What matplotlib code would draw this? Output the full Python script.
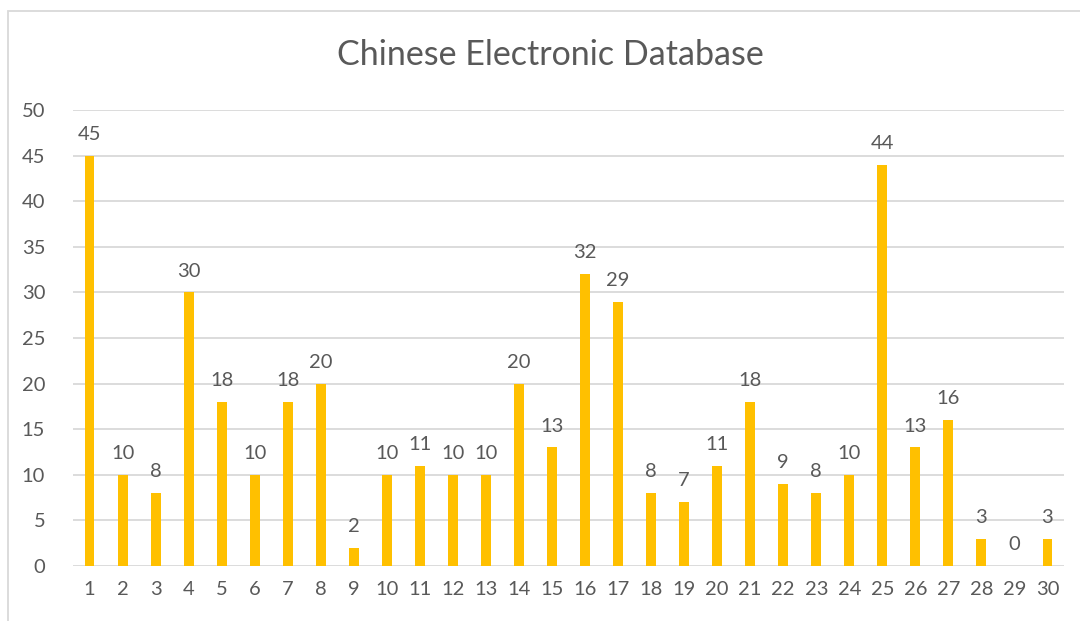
#%% imports

import matplotlib
matplotlib.use("Agg")
import matplotlib.pyplot as plt
from matplotlib.patches import Rectangle

#%% data

categories = [str(i) for i in range(1, 31)]
values = [45, 10, 8, 30, 18, 10, 18, 20, 2, 10, 11, 10, 10, 20, 13,
          32, 29, 8, 7, 11, 18, 9, 8, 10, 44, 13, 16, 3, 0, 3]
y_ticks = [0, 5, 10, 15, 20, 25, 30, 35, 40, 45, 50]
title = "Chinese Electronic Database"

#%% plot

plt.rcParams['font.family'] = ['Lato', 'DejaVu Sans']
text_color = '#595959'

fig = plt.figure(figsize=(10.8, 6.21), dpi=100)
ax = fig.add_axes([73 / 1080, 55 / 621, 991 / 1080, 456 / 621])

x = list(range(len(categories)))
ax.bar(x, values, width=0.3, color='#FFC000', zorder=3)

for xi, v in zip(x, values):
    ax.text(xi, v + 1.4, str(v), ha='center', va='bottom',
            fontsize=14.5, color=text_color)

ax.set_xlim(-0.5, len(categories) - 0.5)
ax.set_ylim(0, 50)
ax.set_yticks(y_ticks)
ax.set_xticks(x)
ax.set_xticklabels(categories)
ax.tick_params(axis='both', length=0, labelsize=14.5, labelcolor=text_color)
ax.tick_params(axis='x', pad=11)
ax.tick_params(axis='y', pad=20)
ax.grid(axis='y', color='#D9D9D9', linewidth=1.3, zorder=0)
for s in ax.spines.values():
    s.set_visible(False)

fig.text(550 / 1080, 1 - 55 / 621, title, ha='center', va='center',
         fontsize=24.5, color=text_color)

# chart border (partly cut off at right/bottom like the screenshot)
fig.patches.append(Rectangle((8 / 1080, -0.1), 1.1, 1.1 - 11 / 621,
                             transform=fig.transFigure, fill=False,
                             edgecolor='#D9D9D9', linewidth=1.3))

fig.savefig('out.png', dpi=100)
